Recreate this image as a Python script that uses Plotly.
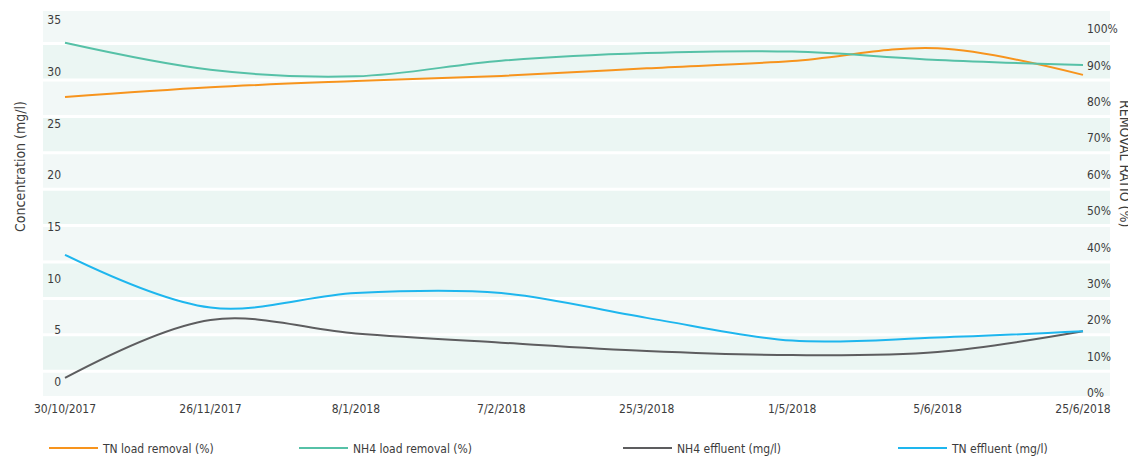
import plotly.graph_objects as go

# sampling dates (categories)
dates = ["30/10/2017", "26/11/2017", "8/1/2018", "7/2/2018",
         "25/3/2018", "1/5/2018", "5/6/2018", "25/6/2018"]

# removal ratios (%), right axis
tn_load_removal = [81.3, 84.0, 85.7, 87.1, 89.2, 91.2, 94.7, 87.4]
nh4_load_removal = [96.2, 88.8, 87.0, 91.3, 93.4, 93.8, 91.5, 90.1]

# effluent concentrations (mg/l), left axis
nh4_effluent = [0.4, 6.0, 4.7, 3.8, 3.0, 2.6, 2.9, 4.9]
tn_effluent = [12.3, 7.2, 8.6, 8.6, 6.2, 4.0, 4.3, 4.9]

conc_ticks = [0, 5, 10, 15, 20, 25, 30, 35]
ratio_ticks = [0, 10, 20, 30, 40, 50, 60, 70, 80, 90, 100]
band_lines = [6, 16, 26, 36, 46, 56, 66, 76, 86, 96]

FONT = "Liberation Sans Narrow, Arial Narrow, DejaVu Sans Condensed, sans-serif"
TXT = "#3c3c3c"

# the page body adds an 8px margin, so the figure is drawn 8px smaller
OFF = 8
W, H = 1136 - OFF, 472 - OFF
PL, PR, PT, PB = 62 - OFF, 1086 - OFF, 11 - OFF, 396 - OFF
PW, PH = PR - PL, PB - PT

idx = list(range(len(dates)))

fig = go.Figure()

series = [
    ("TN load removal (%)", tn_load_removal, "#f7941d", "y2", "legend"),
    ("NH4 load removal (%)", nh4_load_removal, "#56c1a7", "y2", "legend2"),
    ("NH4 effluent (mg/l)", nh4_effluent, "#5d5d5f", "y", "legend3"),
    ("TN effluent (mg/l)", tn_effluent, "#1eb6ee", "y", "legend4"),
]
for name, vals, col, yax, leg in series:
    fig.add_trace(go.Scatter(
        x=idx, y=vals, name=name, mode="lines", yaxis=yax, legend=leg,
        showlegend=True,
        line=dict(color=col, width=2, shape="spline", smoothing=1),
    ))

# background bands + white grid lines (span a bit wider than the plot area)
y2_min, y2_max = -0.82, 104.95
bx0 = (43 - OFF - PL) / PW
bx1 = (1110 - OFF - PL) / PW
edges = [y2_min] + band_lines + [y2_max]
shapes = []
for i in range(len(edges) - 1):
    light = (len(edges) - 2 - i) % 2 == 0
    shapes.append(dict(
        type="rect", xref="paper", yref="y2", layer="below",
        x0=bx0, x1=bx1, y0=edges[i], y1=edges[i + 1],
        fillcolor="#f2f8f7" if light else "#ebf6f3", line=dict(width=0),
    ))
for v in band_lines:
    shapes.append(dict(
        type="line", xref="paper", yref="y2", layer="below",
        x0=bx0, x1=bx1, y0=v, y1=v,
        line=dict(color="white", width=3),
    ))

legend_common = dict(
    orientation="h", xref="container", yref="container",
    yanchor="middle", y=1 - (448 - OFF) / H, bgcolor="rgba(0,0,0,0)",
    font=dict(family=FONT, size=12, color=TXT), itemwidth=49,
)

fig.update_layout(
    width=W, height=H,
    margin=dict(l=PL, r=W - PR, t=PT, b=H - PB),
    paper_bgcolor="white", plot_bgcolor="white",
    font=dict(family=FONT, size=12, color=TXT),
    showlegend=True,
    shapes=shapes,
    xaxis=dict(
        range=[-0.0206, 7.0206], tickvals=idx, ticktext=dates,
        showgrid=False, zeroline=False, showline=False, ticks="",
        automargin=False, ticklabelstandoff=4,
        tickfont=dict(family=FONT, size=12, color=TXT),
    ),
    yaxis=dict(
        range=[-1.354, 35.87], tickvals=conc_ticks,
        showgrid=False, zeroline=False, showline=False, ticks="",
        automargin=False,
        tickfont=dict(family=FONT, size=12, color=TXT),
    ),
    yaxis2=dict(
        range=[y2_min, y2_max], tickvals=ratio_ticks,
        ticktext=[f"{v}%" for v in ratio_ticks],
        overlaying="y", side="right",
        showgrid=False, zeroline=False, showline=False, ticks="",
        automargin=False,
        tickfont=dict(family=FONT, size=12, color=TXT),
    ),
    legend=dict(legend_common, x=(44 - OFF) / W),
    legend2=dict(legend_common, x=(294 - OFF) / W),
    legend3=dict(legend_common, x=(618 - OFF) / W),
    legend4=dict(legend_common, x=(893 - OFF) / W),
    annotations=[
        dict(text="Concentration (mg/l)", textangle=-90, showarrow=False,
             xref="paper", yref="paper", xanchor="center", yanchor="middle",
             x=(20 - OFF - PL) / PW, y=(PB - (167 - OFF)) / PH,
             font=dict(family=FONT, size=14, color=TXT)),
        dict(text="REMOVAL RATIO (%)", textangle=90, showarrow=False,
             xref="paper", yref="paper", xanchor="center", yanchor="middle",
             x=(1125 - OFF - PL) / PW, y=(PB - (163 - OFF)) / PH,
             font=dict(family=FONT, size=14, color=TXT)),
    ],
)

fig.write_html("out.html")
